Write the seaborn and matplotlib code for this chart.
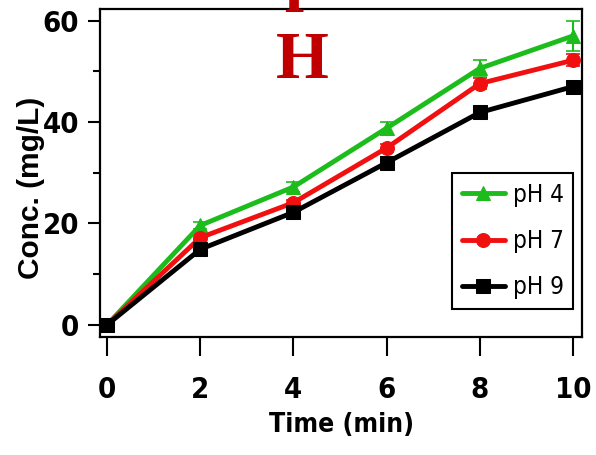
import numpy as np
import pandas as pd
import seaborn as sns
import matplotlib.pyplot as plt
from matplotlib.ticker import MultipleLocator

sns.set_style('white')
plt.rcParams['font.family'] = ['DejaVu Sans']
plt.rcParams['font.stretch'] = 'condensed'
plt.rcParams['text.color'] = 'black'
plt.rcParams['axes.labelcolor'] = 'black'
plt.rcParams['xtick.color'] = 'black'
plt.rcParams['ytick.color'] = 'black'

# data
time = [0, 2, 4, 6, 8, 10]
ph4 = [0, 19.6, 27.2, 38.8, 50.6, 57.0]
ph7 = [0, 17.2, 24.1, 34.9, 47.6, 52.2]
ph9 = [0, 14.9, 22.2, 32.0, 41.9, 47.0]
err4 = [0, 0.6, 1.0, 1.3, 1.6, 3.0]
err7 = [0, 0.5, 0.6, 0.8, 1.0, 1.2]
err9 = [0, 0.4, 0.5, 0.6, 0.6, 0.7]
labels = ['pH 4', 'pH 7', 'pH 9']
colors = ['#1cbc1c', '#f01010', '#000000']
markers = ['^', 'o', 's']

df = pd.DataFrame({
    'Time': time * 3,
    'Conc': ph4 + ph7 + ph9,
    'err': err4 + err7 + err9,
    'pH': [l for l in labels for _ in time],
})

fig = plt.figure(figsize=(5.96, 4.55), dpi=100)
ax = fig.add_axes([0.1678, 0.2593, 0.8087, 0.7209])

for lab, c, m in zip(labels, colors, markers):
    d = df[df['pH'] == lab]
    ax.errorbar(d['Time'], d['Conc'], yerr=d['err'], fmt='none', ecolor=c,
                elinewidth=1.5, capsize=5, capthick=1.2, zorder=2)
    sns.lineplot(data=d, x='Time', y='Conc', ax=ax, color=c, marker=m,
                 markersize=10, markeredgecolor=c, linewidth=3.5, label=lab, zorder=3)

ax.set_xlim(-0.15, 10.19)
ax.set_ylim(-2.4, 62.3)
ax.set_xticks(time)
ax.yaxis.set_major_locator(MultipleLocator(20))
ax.yaxis.set_minor_locator(MultipleLocator(10))

for s in ax.spines.values():
    s.set_linewidth(1.6)
    s.set_color('black')

ax.tick_params(axis='x', which='major', direction='out', length=14, width=1.5,
               pad=14, labelsize=21, bottom=True)
ax.tick_params(axis='y', which='major', direction='out', length=9, width=1.5,
               pad=6, labelsize=21, left=True)
ax.tick_params(axis='y', which='minor', direction='out', length=5, width=1.5, left=True)
for t in ax.get_xticklabels() + ax.get_yticklabels():
    t.set_fontweight('bold')

ax.set_xlabel('Time (min)', fontsize=19, fontweight='bold', labelpad=6)
ax.set_ylabel('Conc. (mg/L)', fontsize=21.5, fontweight='bold',
              family=['Liberation Sans', 'DejaVu Sans'], fontstretch='normal')
ax.yaxis.set_label_coords(-0.114, 0.454)

leg = ax.legend(loc='upper left', bbox_to_anchor=(0.73, 0.5), fontsize=17.5,
                handlelength=1.8, handletextpad=0.3,
                borderpad=0.4, labelspacing=0.92, borderaxespad=0,
                fancybox=False, framealpha=1)
leg.get_frame().set_edgecolor('black')
leg.get_frame().set_linewidth(1.5)

fig.text(0.508, 1 + 2 / 455, 'p', color='#c00000', fontsize=49, fontweight='bold',
         family=['Liberation Serif', 'DejaVu Serif'], fontstretch='normal',
         ha='center', va='baseline')
fig.text(0.508, 1 - 78 / 455, 'H', color='#c00000', fontsize=49, fontweight='bold',
         family=['Liberation Serif', 'DejaVu Serif'], fontstretch='normal',
         ha='center', va='baseline')

fig.savefig('out.png', dpi=100)
